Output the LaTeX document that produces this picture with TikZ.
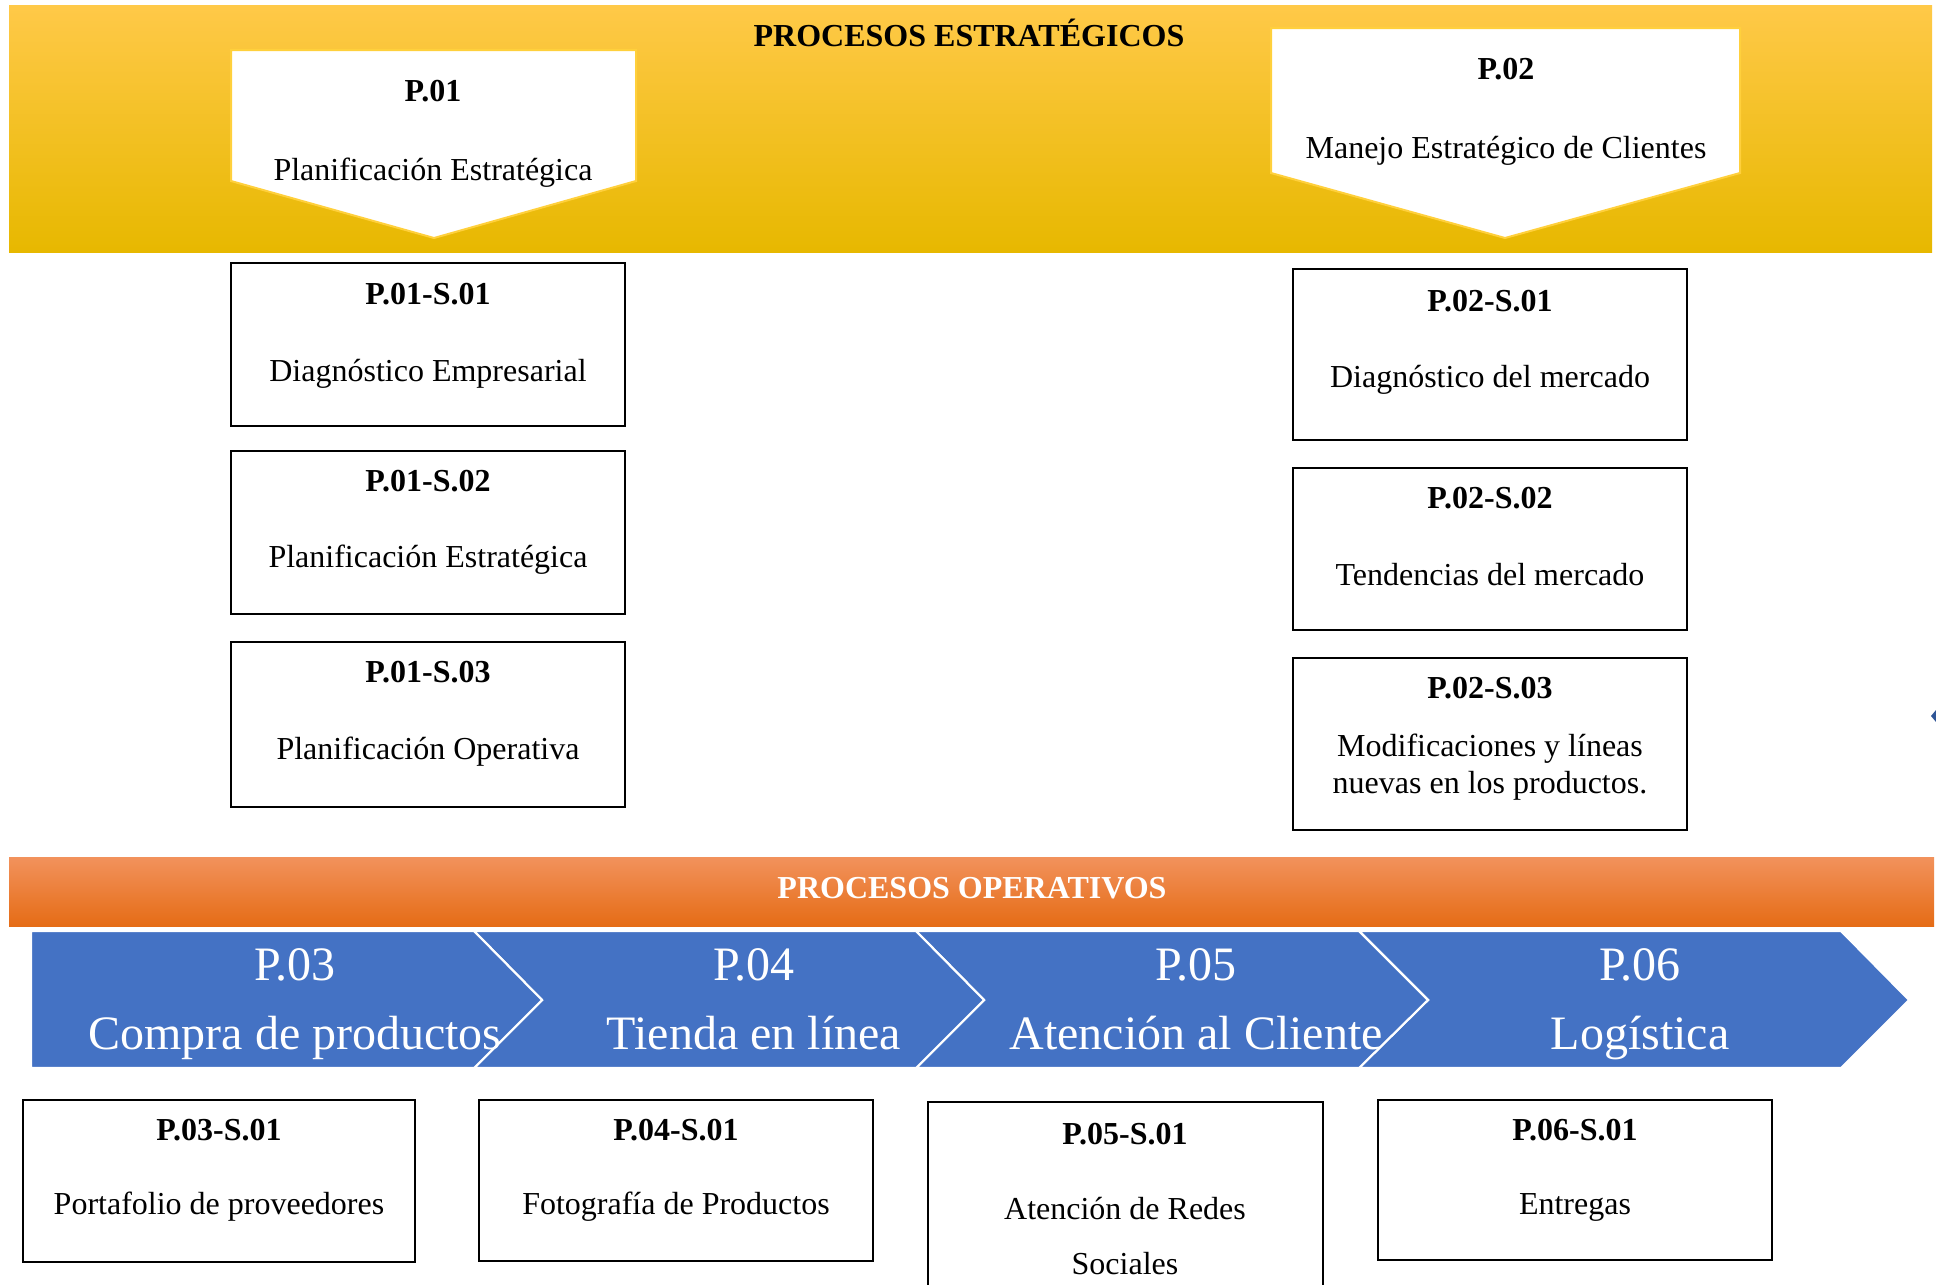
\documentclass[tikz,border=0pt]{standalone}
\usepackage{fontspec}
\setmainfont{Liberation Serif}
\usetikzlibrary{fit}
\definecolor{yTop}{RGB}{255,201,72}
\definecolor{yMid}{RGB}{255,193,0}
\definecolor{yBot}{RGB}{231,184,0}
\definecolor{oTop}{RGB}{242,146,92}
\definecolor{oMid}{RGB}{246,126,42}
\definecolor{oBot}{RGB}{229,108,22}
\definecolor{penB}{RGB}{255,208,60}
\definecolor{chevB}{RGB}{68,114,196}
\definecolor{markB}{RGB}{47,85,151}
\begin{document}
\begin{tikzpicture}[x=0.75pt,y=-0.75pt,
  body/.style={font=\fontsize{24}{28}\selectfont, inner sep=0pt, anchor=base},
  big/.style={font=\fontsize{36}{40}\selectfont, text=white, inner sep=0pt, anchor=base},
  sbox/.style={draw=black, line width=1.1pt, fill=white, inner sep=0pt},
  pent/.style={fill=white, draw=penB, line width=1.5pt},
  chev/.style={fill=chevB, draw=white, line width=1.6pt}]
\useasboundingbox (0,0) rectangle (1936,1285);
\clip (0,0) rectangle (1936,1285);
\fill[white] (0,0) rectangle (1936,1285);
% yellow band
\shade[top color=yTop, middle color=yMid, bottom color=yBot] (9,5) rectangle (1932,252);
\node[body, font=\fontsize{24}{28}\selectfont\bfseries] (tstrat) at (969,46) {PROCESOS ESTRATÉGICOS};
% pentagons
\draw[pent] (231,50) -- (636,50) -- (636,181) -- (434,238) -- (231,181) -- cycle;
\node[body] (p01a) at (433,101) {\textbf{P.01}};
\node[body] (p01b) at (433,180) {Planificación Estratégica};
\draw[pent] (1271,28) -- (1740,28) -- (1740,173) -- (1505,238) -- (1271,173) -- cycle;
\node[body] (p02a) at (1506,79) {\textbf{P.02}};
\node[body] (p02b) at (1506,158) {Manejo Estratégico de Clientes};
% left sub boxes
\node[sbox, fit={(231,263) (625,426)}] (s11) {};
\node[body] (s11a) at (428,304) {\textbf{P.01-S.01}};
\node[body] (s11b) at (428,381) {Diagnóstico Empresarial};
\node[sbox, fit={(231,451) (625,614)}] (s12) {};
\node[body] (s12a) at (428,491) {\textbf{P.01-S.02}};
\node[body] (s12b) at (428,567) {Planificación Estratégica};
\node[sbox, fit={(231,642) (625,807)}] (s13) {};
\node[body] (s13a) at (428,682) {\textbf{P.01-S.03}};
\node[body] (s13b) at (428,759) {Planificación Operativa};
% right sub boxes
\node[sbox, fit={(1293,269) (1687,440)}] (s21) {};
\node[body] (s21a) at (1490,311) {\textbf{P.02-S.01}};
\node[body] (s21b) at (1490,387) {Diagnóstico del mercado};
\node[sbox, fit={(1293,468) (1687,630)}] (s22) {};
\node[body] (s22a) at (1490,508) {\textbf{P.02-S.02}};
\node[body] (s22b) at (1490,585) {Tendencias del mercado};
\node[sbox, fit={(1293,658) (1687,830)}] (s23) {};
\node[body] (s23a) at (1490,698) {\textbf{P.02-S.03}};
\node[body] (s23b) at (1490,756) {Modificaciones y líneas};
\node[body] (s23c) at (1490,793) {nuevas en los productos.};
% small mark at right edge
\fill[markB] (1931,716) -- (1936,710) -- (1936,722) -- cycle;
% orange band
\shade[top color=oTop, middle color=oMid, bottom color=oBot] (9,857) rectangle (1934,926);
\node[body, text=white, font=\fontsize{24}{28}\selectfont\bfseries] (toper) at (972,898) {PROCESOS OPERATIVOS};
% chevrons
\draw[chev] (1359,931) -- (1841,931) -- (1909,1000) -- (1841,1068) -- (1359,1068) -- (1428,1000) -- cycle;
\draw[chev] (916,931) -- (1359,931) -- (1428,1000) -- (1359,1068) -- (916,1068) -- (984,1000) -- cycle;
\draw[chev] (474,931) -- (916,931) -- (984,1000) -- (916,1068) -- (474,1068) -- (542,1000) -- cycle;
\draw[chev] (31,931) -- (474,931) -- (542,1000) -- (474,1068) -- (31,1068) -- cycle;
\node[big] (c3a) at (295,980) {P.03};
\node[big] (c3b) at (295,1049) {Compra de productos};
\node[big] (c4a) at (754,980) {P.04};
\node[big] (c4b) at (754,1049) {Tienda en línea};
\node[big] (c5a) at (1196,980) {P.05};
\node[big] (c5b) at (1196,1049) {Atención al Cliente};
\node[big] (c6a) at (1640,980) {P.06};
\node[big] (c6b) at (1640,1049) {Logística};
% bottom sub boxes
\node[sbox, fit={(23,1100) (415,1262)}] (s31) {};
\node[body] (s31a) at (219,1140) {\textbf{P.03-S.01}};
\node[body] (s31b) at (219,1214) {Portafolio de proveedores};
\node[sbox, fit={(479,1100) (873,1261)}] (s41) {};
\node[body] (s41a) at (676,1140) {\textbf{P.04-S.01}};
\node[body] (s41b) at (676,1214) {Fotografía de Productos};
\node[sbox, fit={(928,1102) (1323,1300)}] (s51) {};
\node[body] (s51a) at (1125,1144) {\textbf{P.05-S.01}};
\node[body] (s51b) at (1125,1219) {Atención de Redes};
\node[body] (s51c) at (1125,1274) {Sociales};
\node[sbox, fit={(1378,1100) (1772,1260)}] (s61) {};
\node[body] (s61a) at (1575,1140) {\textbf{P.06-S.01}};
\node[body] (s61b) at (1575,1214) {Entregas};
\end{tikzpicture}
\end{document}
